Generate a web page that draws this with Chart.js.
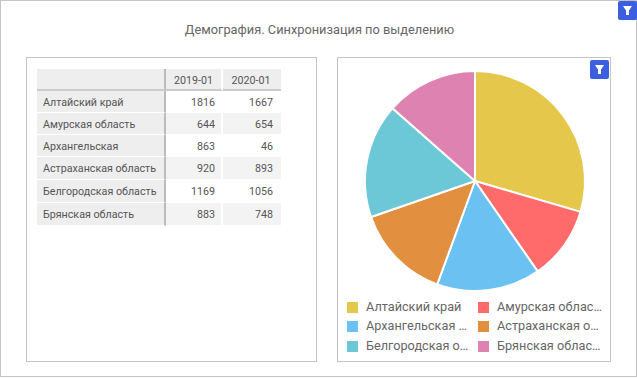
<!DOCTYPE html>
<html>
<head>
<meta charset="utf-8">
<script src="https://cdn.jsdelivr.net/npm/chart.js@4"></script>
<style>
  html, body { margin: 0; padding: 0; background: #fff; }
  body { width: 637px; height: 378px; position: relative; overflow: hidden; font-family: Roboto, sans-serif; }
  .box { position: absolute; box-sizing: border-box; border: 1px solid #c4c4c4; background: #fff; }
  #title { position: absolute; left: 0; top: 22px; width: 639px; text-align: center; font-size: 12.8px; line-height: 16px; color: #666; }
  .flt { position: absolute; width: 19px; height: 19px; background: #3b5fe0; border-radius: 2px; }
  .flt svg { position: absolute; left: 3px; top: 3px; }
  #grid { position: absolute; left: 37px; top: 69px; display: grid;
    grid-template-columns: 129px 57px 58px; grid-template-rows: 22px 22px 22px 22px 23px 23px 23px;
    font-size: 10.7px; color: #555; }
  #grid div { box-sizing: border-box; line-height: 15px; padding-top: 3.5px; overflow: hidden; border-bottom: 1px solid #fff; border-right: 2px solid #fff; }
  #grid div:nth-child(3n) { border-right: 0; padding-right: 8px; }
  #grid .corner { background: #eee; border-right: 2px solid #bbb; border-bottom: 2px solid #ccc; }
  #grid .head { background: #eee; text-align: center; border-bottom: 2px solid #ccc; }
  #grid .head:nth-child(3n) { padding-right: 2px; }
  #grid .name { background: #eee; padding-left: 6px; padding-right: 6px; border-right: 2px solid #bbb; }
  #grid .val { text-align: right; padding-right: 6px; }
  #grid .odd { background: #f3f3f3; }
  #pieWrap { position: absolute; left: 339px; top: 69px; width: 272px; height: 224px; }
  #legend { position: absolute; left: 347px; top: 297px; display: grid;
    grid-template-columns: 131px 125px; grid-auto-rows: 19.4px; font-size: 12.7px; color: #666; }
  #legend .it { position: relative; box-sizing: border-box; padding-left: 19px; line-height: 19px; white-space: nowrap; }
  #legend .it span { display: block; overflow: hidden; text-overflow: ellipsis; }
  #legend i { position: absolute; left: 0; top: 5px; width: 11px; height: 11px; }
</style>
</head>
<body>
<div class="box" style="left:0;top:0;width:637px;height:377px"></div>
<div id="title">Демография. Синхронизация по выделению</div>
<div class="flt" style="left:618px;top:1px"><svg width="13" height="13" viewBox="0 0 13 13"><path d="M2 2h9L8 6.5V11H5V6.5z" fill="#fff"/></svg></div>
<div class="box" style="left:26px;top:57px;width:291px;height:305px"></div>
<div class="box" style="left:337px;top:57px;width:274px;height:305px"></div>
<div id="grid"></div>
<div id="pieWrap"><canvas id="pieChart"></canvas></div>
<div class="flt" style="left:590px;top:60px"><svg width="13" height="13" viewBox="0 0 13 13"><path d="M2 2h9L8 6.5V11H5V6.5z" fill="#fff"/></svg></div>
<div id="legend"></div>
<script>
const categories = ['Алтайский край', 'Амурская область', 'Архангельская область', 'Астраханская область', 'Белгородская область', 'Брянская область'];
const periods = ['2019-01', '2020-01'];
const values2019 = [1816, 644, 863, 920, 1169, 883];
const values2020 = [1667, 654, 46, 893, 1056, 748];
// доли круга, с колонками таблицы не совпадают
const pieValues = [1816, 666, 936, 868, 1034, 830];
const colors = ['#e5c84b', '#ff6b6b', '#6bc1f2', '#e28f40', '#6cc7d6', '#dd82b1'];

// таблица
const grid = document.getElementById('grid');
function cell(cls, text) {
  const d = document.createElement('div');
  d.className = cls;
  d.textContent = text;
  grid.appendChild(d);
}
cell('corner', '');
periods.forEach(p => cell('head', p));
categories.forEach((name, i) => {
  const odd = i % 2 ? ' odd' : '';
  cell('name', name);
  cell('val' + odd, values2019[i]);
  cell('val' + odd, values2020[i]);
});

// круговая диаграмма
const ctx = document.getElementById('pieChart').getContext('2d');
const pie = new Chart(ctx, {
  type: 'pie',
  data: {
    labels: categories,
    datasets: [{
      data: pieValues,
      backgroundColor: colors,
      borderColor: '#fff',
      borderWidth: 2
    }]
  },
  options: {
    responsive: true,
    maintainAspectRatio: false,
    animation: false,
    layout: { padding: 1 },
    plugins: { legend: { display: false }, tooltip: { enabled: false } }
  }
});

// легенда
const legend = document.getElementById('legend');
categories.forEach((name, i) => {
  const it = document.createElement('div');
  it.className = 'it';
  it.style.width = (i % 2 ? 106 : 103.5) + 19 + 'px';
  const sw = document.createElement('i');
  sw.style.background = colors[i];
  const t = document.createElement('span');
  t.textContent = name;
  it.appendChild(sw);
  it.appendChild(t);
  legend.appendChild(it);
});
</script>
</body>
</html>
